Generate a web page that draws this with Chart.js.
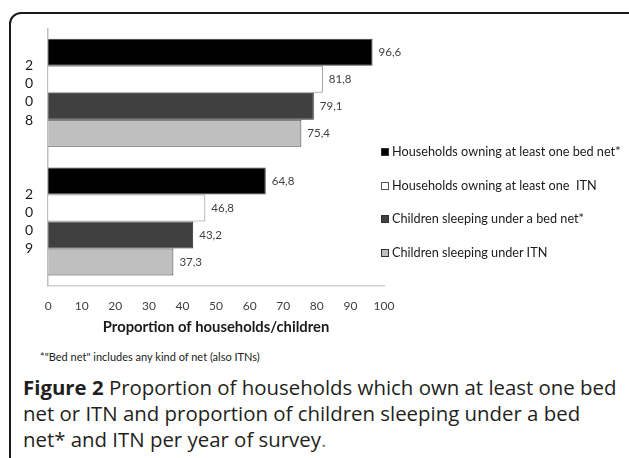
<!DOCTYPE html>
<html>
<head>
<meta charset="utf-8">
<script src="https://cdn.jsdelivr.net/npm/chart.js@4.4.1/dist/chart.umd.min.js"></script>
<style>
  body { margin: 0; width: 629px; height: 458px; overflow: hidden; background: #fff; position: relative; font-family: "Lato", sans-serif; }
  .frame { position: absolute; left: 9px; top: 12px; width: 700px; height: 520px; border: 2px solid #1a1a1a; border-radius: 12px; }
  /* canvas sits a bit above the page top: the stacked year labels push the plot down by their half height */
  #wrap { position: absolute; left: 0; top: -23px; width: 629px; height: 361px; }
  #legend { position: absolute; left: 381px; top: 143px; font-size: 12.7px; color: #1a1a1a; }
  #legend div { height: 33.7px; line-height: 16px; white-space: nowrap; }
  #legend span.box { display: inline-block; width: 8px; height: 8px; margin-right: 3px; box-sizing: border-box; }
  .note { position: absolute; left: 40px; top: 350px; font-size: 11px; color: #222; }
  .caption { position: absolute; left: 23px; top: 374px; width: 620px; font-family: "Open Sans", sans-serif; font-size: 20.4px; line-height: 26px; color: #231f20; white-space: nowrap; }
  .caption b { font-weight: 700; }
</style>
</head>
<body>
<div class="frame"></div>
<div id="wrap"><canvas id="netChart"></canvas></div>
<div id="legend"></div>
<div class="note">*"Bed net" includes any kind of net (also ITNs)</div>
<div class="caption"><b>Figure 2</b> Proportion of households which own at least one bed<br>net or ITN and proportion of children sleeping under a bed<br>net* and ITN per year of survey<span style="color:#777">.</span></div>
<script>
const years = [['2', '0', '0', '8'], ['2', '0', '0', '9']];
const seriesNames = [
  'Households owning at least one bed net*',
  'Households owning at least one  ITN',
  'Children sleeping under a bed net*',
  'Children sleeping under ITN'
];
const ownAnyNet = [96.6, 64.8];
const ownItn = [81.8, 46.8];
const childAnyNet = [79.1, 43.2];
const childItn = [75.4, 37.3];
const xTicks = [0, 10, 20, 30, 40, 50, 60, 70, 80, 90, 100];

const fills = ['#000000', '#ffffff', '#404040', '#bfbfbf'];
const edges = ['#404040', '#8c8c8c', '#262626', '#404040'];

// value labels next to each bar, decimal comma like the original
const valueLabels = {
  id: 'valueLabels',
  afterDatasetsDraw(chart) {
    const c = chart.ctx;
    c.save();
    c.font = '11.5px Lato';
    c.fillStyle = '#404040';
    c.textAlign = 'left';
    c.textBaseline = 'middle';
    chart.data.datasets.forEach((ds, i) => {
      chart.getDatasetMeta(i).data.forEach((bar, j) => {
        c.fillText(ds.data[j].toFixed(1).replace('.', ','), bar.x + 6, bar.y);
      });
    });
    c.restore();
  }
};

const ctx = document.getElementById('netChart').getContext('2d');
const chart = new Chart(ctx, {
  type: 'bar',
  data: {
    labels: years,
    datasets: [ownAnyNet, ownItn, childAnyNet, childItn].map((vals, i) => ({
      label: seriesNames[i],
      data: vals,
      backgroundColor: fills[i],
      borderColor: edges[i],
      borderWidth: 1,
      borderSkipped: 'left',
      barPercentage: 1,
      categoryPercentage: 0.84
    }))
  },
  options: {
    indexAxis: 'y',
    responsive: true,
    maintainAspectRatio: false,
    animation: false,
    layout: { padding: { left: 10, right: 245, top: 0, bottom: 0 } },
    plugins: {
      legend: { display: false },
      tooltip: { enabled: false }
    },
    scales: {
      x: {
        min: 0,
        max: 100,
        afterBuildTicks: axis => { axis.ticks = xTicks.map(v => ({ value: v })); },
        grid: { display: false, drawTicks: false },
        border: { display: true, color: '#d0d0d0', width: 1.5 },
        ticks: { padding: 13, color: '#404040', font: { family: 'Lato', size: 12 } },
        title: {
          display: true,
          text: 'Proportion of households/children',
          color: '#1a1a1a',
          font: { family: 'Lato', size: 14.8, weight: 'bold' },
          padding: { top: -8, bottom: 2 }
        }
      },
      y: {
        grid: { display: false, drawTicks: false },
        border: { display: true, color: '#bfbfbf', width: 1.5 },
        ticks: { padding: 15, color: '#1a1a1a', font: { family: 'Lato', size: 14, lineHeight: 1.3 } }
      }
    }
  },
  plugins: [valueLabels]
});

// html legend built from the datasets
document.getElementById('legend').innerHTML = chart.data.datasets.map(ds =>
  '<div><span class="box" style="background:' + ds.backgroundColor + ';border:1px solid ' + (ds.backgroundColor === '#ffffff' ? '#555' : '#333') + '"></span>' + ds.label.replace(/  /g, ' &nbsp;') + '</div>'
).join('');
</script>
</body>
</html>
